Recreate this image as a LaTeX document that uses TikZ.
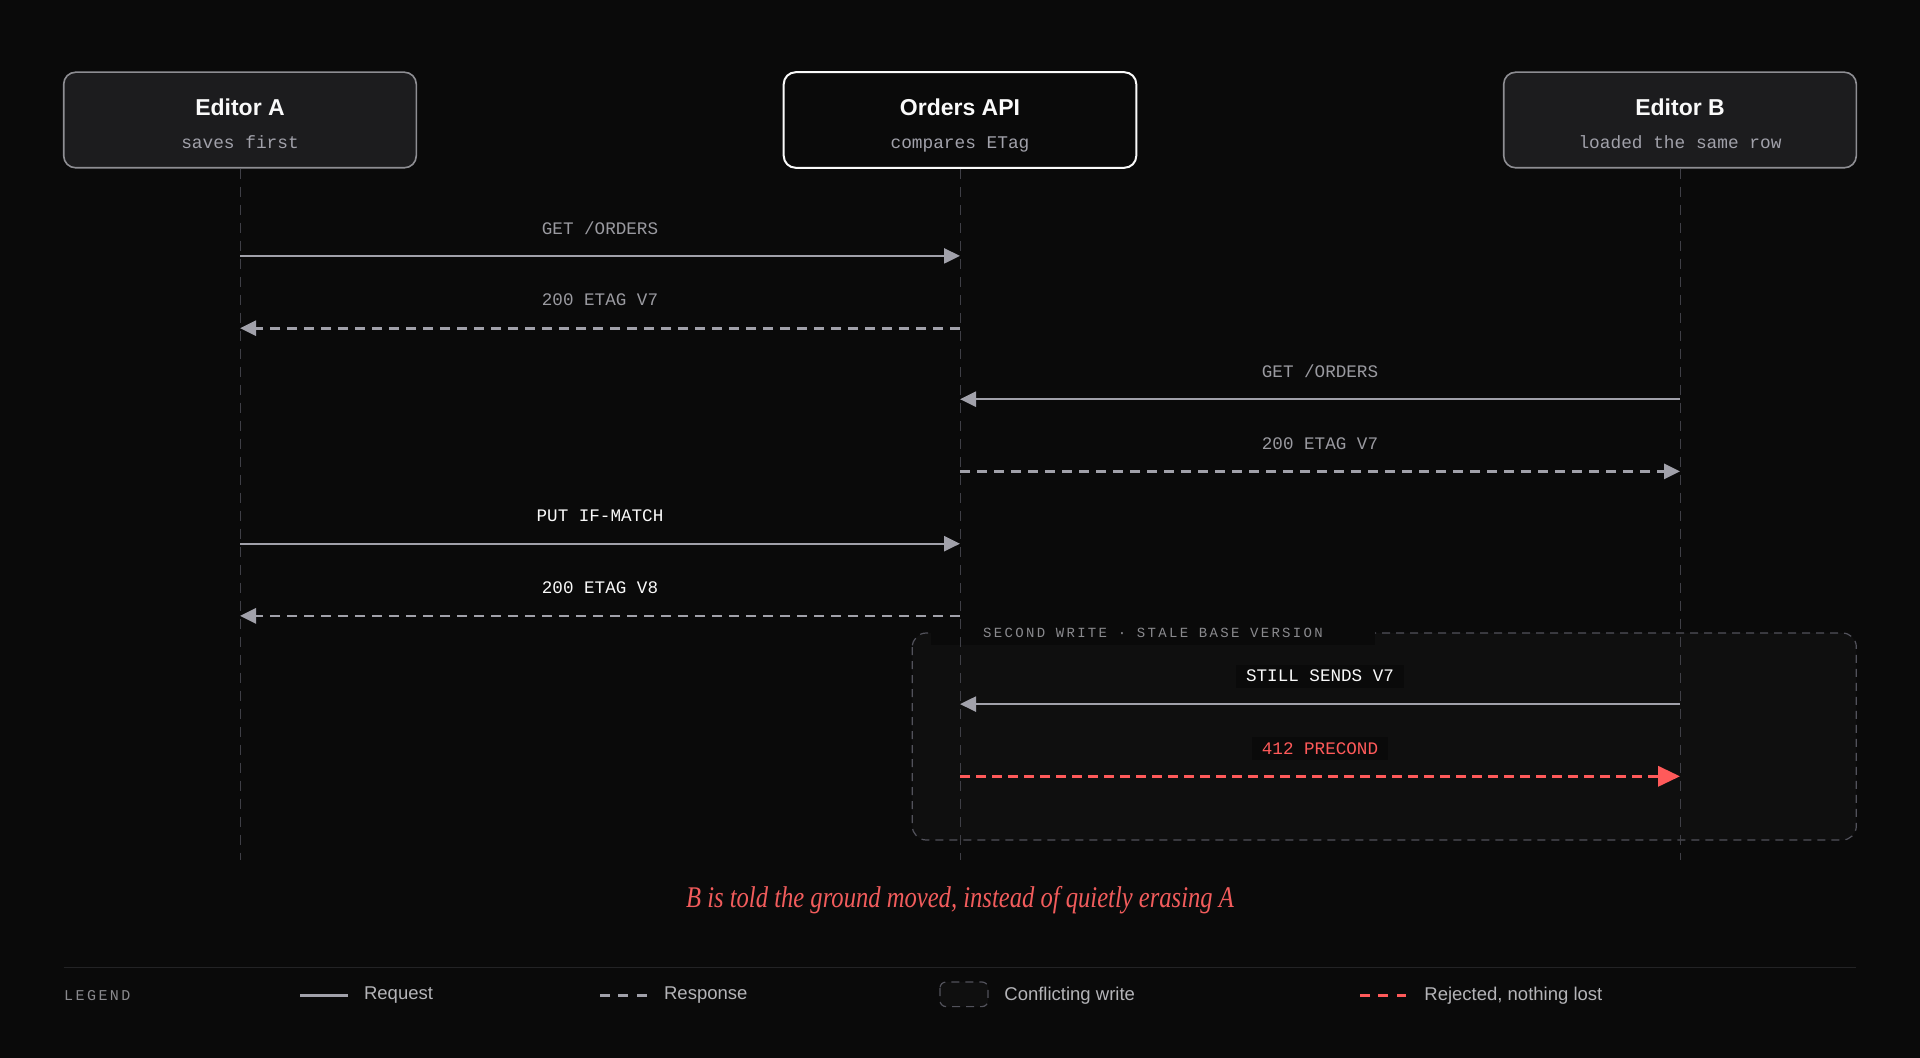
\documentclass[tikz,border=0pt]{standalone}
\usepackage{fontspec}
\setmainfont{Liberation Sans}
\newfontfamily\monof{Liberation Mono}
\newfontfamily\trackf[LetterSpace=16.5]{Liberation Mono}
\newfontfamily\capf[FakeStretch=0.82]{Liberation Serif}
\usetikzlibrary{arrows.meta,positioning,calc}

\definecolor{bg}{HTML}{0A0A0A}
\definecolor{boxfill}{HTML}{1C1C1E}
\definecolor{boxline}{HTML}{8E8E93}
\definecolor{txtwhite}{HTML}{FAFAFA}
\definecolor{subgray}{HTML}{A1A1AA}
\definecolor{lifegray}{HTML}{3F3F46}
\definecolor{arrgray}{HTML}{A1A1AA}
\definecolor{lblgray}{HTML}{9A9AA0}
\definecolor{red1}{HTML}{FF5A5A}
\definecolor{capred}{HTML}{F25C5C}
\definecolor{groupfill}{HTML}{0F0F0F}
\definecolor{groupline}{HTML}{52525B}
\definecolor{sepgray}{HTML}{232325}
\definecolor{keygray}{HTML}{8A8A8E}
\definecolor{keytext}{HTML}{B4B4B8}

\newcommand{\boxtext}[2]{\rule{0pt}{14pt}{\fontsize{11.5}{14}\selectfont\bfseries #1}\\[4.2pt]\textcolor{subgray}{\monof\fontsize{8.9}{10}\selectfont #2\vphantom{g}}}

\begin{document}
\begin{tikzpicture}[x=0.5pt,y=-0.5pt]
\tikzset{actor/.style={rectangle,draw=boxline,fill=boxfill,rounded corners=6pt,line width=0.8pt,minimum width=176.3pt,minimum height=47.8pt,align=center,text=txtwhite}}
\tikzset{server/.style={actor,draw=txtwhite,fill=bg,line width=1pt}}
\tikzset{lifeline/.style={draw=lifegray,line width=0.5pt,dash pattern=on 5pt off 4pt}}
\tikzset{req/.style={draw=arrgray,line width=1.2pt,-{Triangle[length=8pt,width=7.5pt]}}}
\tikzset{resp/.style={req,line width=1.4pt,dash pattern=on 5pt off 3.5pt}}
\tikzset{rej/.style={draw=red1,line width=1.8pt,dash pattern=on 5pt off 3pt,-{Triangle[length=11pt,width=10pt]}}}
\tikzset{msg/.style={midway,yshift=14pt,inner sep=0pt,font=\monof\fontsize{8.8}{10}\selectfont,text=lblgray}}
\tikzset{patch/.style={fill=bg,inner xsep=5pt,minimum height=11.5pt}}
\tikzset{group/.style={draw=groupline,fill=groupfill,line width=0.6pt,dash pattern=on 4pt off 3pt,rounded corners=7pt}}
\tikzset{grouplabel/.style={fill=bg,inner xsep=26pt,minimum height=12pt,font=\trackf\fontsize{7}{8}\selectfont,text=keygray}}
\tikzset{legendtxt/.style={anchor=west,inner sep=0pt,font=\fontsize{9.25}{11}\selectfont,text=keytext}}

\useasboundingbox (0,0) rectangle (1920,1058);
\fill[bg] (0,0) rectangle (1920,1058);

\node[actor] (editorA) at (240,120) {\boxtext{Editor A}{saves first}};
\node[server, right=182.8pt of editorA] (api) {\boxtext{Orders API}{compares ETag}};
\node[actor, right=182.8pt of api] (editorB) {\boxtext{Editor B}{loaded the same row}};

\coordinate (gTL) at (912.3,633);
\coordinate (gBR) at (1856.3,840);
\draw[group] (gTL) rectangle (gBR);
\node[grouplabel] (glabel) at (1153,633) {SECOND WRITE · STALE BASE VERSION};

\foreach \a in {editorA,api,editorB}{%
\coordinate (end-\a) at (\a |- 0,859.6);
\draw[lifeline] (\a.south) -- (end-\a);}

\foreach \n/\y in {1/255.9,2/328.2,3/399.2,4/471.4,5/543.7,6/615.9,7/704.1,8/776.3}{%
\coordinate (A\n) at (editorA |- 0,\y);
\coordinate (S\n) at (api |- 0,\y);
\coordinate (B\n) at (editorB |- 0,\y);}

\draw[req] (A1) -- node[msg] (m1) {GET /ORDERS} (S1);
\draw[resp] (S2) -- node[msg] (m2) {200 ETAG V7} (A2);
\draw[req] (B3) -- node[msg] (m3) {GET /ORDERS} (S3);
\draw[resp] (S4) -- node[msg] (m4) {200 ETAG V7} (B4);
\draw[req] (A5) -- node[msg,text=txtwhite] (m5) {PUT IF-MATCH} (S5);
\draw[resp] (S6) -- node[msg,text=txtwhite] (m6) {200 ETAG V8} (A6);
\draw[req] (B7) -- node[msg,patch,text=txtwhite] (m7) {STILL SENDS V7} (S7);
\draw[rej] (S8) -- node[msg,patch,text=red1] (m8) {412 PRECOND} (B8);

\node[text=capred,font=\capf\itshape\fontsize{15}{17}\selectfont] (note) at (960,900) {B is told the ground moved, instead of quietly erasing A};

\draw[sepgray,line width=0.5pt] (63.7,967.4) -- (1856.3,967.4);
\node[anchor=west,inner sep=0pt,font=\trackf\fontsize{7.5}{9}\selectfont,text=keygray] (legend) at (63.7,995.5) {LEGEND};

\draw[arrgray,line width=1.2pt] (300,995.5) -- (348,995.5);
\node[legendtxt] (kreq) at (363.7,995.5) {Request};
\draw[arrgray,line width=1.2pt,dash pattern=on 5pt off 4.2pt] (600,995.5) -- (646.5,995.5);
\node[legendtxt] (kresp) at (663.7,995.5) {Response};
\draw[group,rounded corners=3pt] (940,982) rectangle (988,1006.6);
\node[legendtxt] (kgroup) at (1004,995.5) {Conflicting write};
\draw[red1,line width=1.8pt,dash pattern=on 5pt off 4.2pt] (1360,995.5) -- (1405.7,995.5);
\node[legendtxt] (krej) at (1424,995.5) {Rejected, nothing lost};
\end{tikzpicture}
\end{document}
